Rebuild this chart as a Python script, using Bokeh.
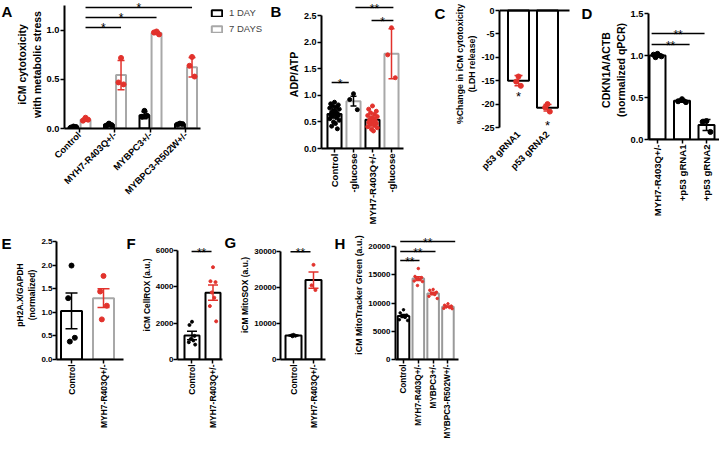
import math
from bokeh.plotting import figure
from bokeh.layouts import row, column
from bokeh.models import (Range1d, FixedTicker, PrintfTickFormatter, Whisker, TeeHead,
                          ColumnDataSource, Label, Legend, LegendItem)
from bokeh.core.properties import value
from bokeh.embed import file_html
from bokeh.resources import INLINE

FONT = "Liberation Sans"
RED = "#e2322c"
GREY = "#a8a8a8"
HGREY = "#9a9a9a"

# ================= DATA =================
# Panel A
a_groups = ["Control", "MYH7-R403Q+/-", "MYBPC3+/-", "MYBPC3-R502W+/-"]
a_legend = ["1 DAY", "7 DAYS"]
a_day1_mean = [0.015, 0.04, 0.135, 0.045]
a_day1_err = [0.005, 0.01, 0.035, 0.006]
a_day1_pts = [[0.02, 0.01, 0.015], [0.05, 0.03, 0.035], [0.18, 0.12, 0.13], [0.05, 0.04, 0.045]]
a_day7_mean = [0.09, 0.545, 0.975, 0.625]
a_day7_err = [0.015, 0.15, 0.015, 0.10]
a_day7_pts = [[0.11, 0.08, 0.09], [0.72, 0.47, 0.45], [0.99, 0.98, 0.96], [0.73, 0.64, 0.53]]
a_yticks = [0.0, 0.5, 1.0]

# Panel B
b_labels = ["Control", "-glucose", "MYH7-R403Q+/-", "-glucose"]
b_mean = [0.65, 0.89, 0.54, 1.78]
b_err = [0.03, 0.09, 0.03, 0.47]
b_pts = [
    [0.87, 0.84, 0.82, 0.80, 0.78, 0.76, 0.74, 0.72, 0.70, 0.68, 0.66,
     0.65, 0.63, 0.62, 0.60, 0.58, 0.56, 0.53, 0.50, 0.47, 0.42, 0.37],
    [1.03, 0.92, 0.73],
    [0.80, 0.74, 0.70, 0.67, 0.64, 0.62, 0.60, 0.58, 0.56, 0.54,
     0.52, 0.50, 0.49, 0.47, 0.45, 0.43, 0.41, 0.39, 0.36, 0.33],
    [2.27, 1.76, 1.33],
]
b_yticks = [0.0, 0.5, 1.0, 1.5, 2.0, 2.5]

# Panel C
c_labels = ["p53 gRNA1", "p53 gRNA2"]
c_mean = [-15.0, -20.8]
c_err = [1.1, 0.7]
c_pts = [[-14.1, -15.2, -16.1], [-20.0, -20.7, -21.6]]
c_yticks = [0, -5, -10, -15, -20, -25]

# Panel D
d_labels = ["MYH7-R403Q+/-", "+p53 gRNA1", "+p53 gRNA2"]
d_mean = [1.0, 0.46, 0.173]
d_err = [0.02, 0.015, 0.065]
d_pts = [[1.02, 1.01, 0.99, 0.98], [0.48, 0.455, 0.445], [0.22, 0.21, 0.09]]
d_yticks = [0.0, 0.5, 1.0, 1.5]

# Panel E
e_labels = ["Control", "MYH7-R403Q+/-"]
e_mean = [1.03, 1.30]
e_err = [0.38, 0.20]
e_pts = [[1.99, 1.30, 0.46, 0.38], [1.77, 1.44, 1.14, 0.85]]
e_yticks = [0.0, 0.5, 1.0, 1.5, 2.0, 2.5]

# Panel F
f_labels = ["Control", "MYH7-R403Q+/-"]
f_mean = [1320, 3680]
f_err = [230, 420]
f_pts = [[2080, 1900, 1300, 1130, 1050, 950, 820], [5080, 4310, 4260, 3690, 3400, 2940, 2100]]
f_yticks = [0, 2000, 4000, 6000]

# Panel G
g_labels = ["Control", "MYH7-R403Q+/-"]
g_mean = [6650, 22070]
g_err = [150, 2250]
g_pts = [[6850, 6700, 6600, 6450], [26300, 20600, 19300]]
g_yticks = [0, 10000, 20000, 30000]

# Panel H
h_labels = ["Control", "MYH7-R403Q+/-", "MYBPC3+/-", "MYBPC3-R502W+/-"]
h_mean = [7710, 14325, 11680, 9350]
h_err = [270, 330, 230, 120]
h_pts = [[8800, 8250, 7850, 7650, 7450, 7050, 6900],
         [16100, 14700, 14500, 14300, 14200, 13900, 13800, 13100],
         [12400, 12250, 11900, 11700, 11500, 11200, 10800],
         [9850, 9600, 9450, 9300, 9200, 9050, 9000]]
h_yticks = [0, 5000, 10000, 15000, 20000]

# ================= HELPERS =================
PATTERN = [0.0, -0.8, 0.8, -0.4, 0.4, -1.0, 1.0, -0.2, 0.2, -0.6, 0.6]


def spread_x(center, n, half):
    return [center + PATTERN[i % len(PATTERN)] * half for i in range(n)]


def make_fig(fl, ft, fw, fh, l, r, t, b, xr, yr):
    # fl, ft: page position of the frame's top-left corner (for letter placement)
    p = figure(frame_width=fw, frame_height=fh, x_range=Range1d(*xr), y_range=Range1d(*yr),
               output_backend="svg", toolbar_location=None, title=None,
               min_border_left=l, min_border_right=r, min_border_top=t, min_border_bottom=b)
    p.xgrid.visible = False
    p.ygrid.visible = False
    p.outline_line_color = None
    p.background_fill_color = "white"
    p.border_fill_color = "white"
    p._g = (fl, ft, fw, fh, xr, yr)
    return p


def put_letter(p, txt, px, py):
    fl, ft, fw, fh, xr, yr = p._g
    x = xr[0] + (px - fl) * (xr[1] - xr[0]) / fw
    y = yr[1] - (py - ft) * (yr[1] - yr[0]) / fh
    p.text(x=[x], y=[y], text=[txt], text_font=value(FONT), text_font_style="bold",
           text_font_size="15px", text_baseline="top", text_align="left", text_color="black")


def letter_fig(w, h, txt, x, y):
    p = figure(frame_width=w, frame_height=h, x_range=Range1d(0, w), y_range=Range1d(0, h),
               output_backend="svg", toolbar_location=None, title=None,
               x_axis_type=None, y_axis_type=None, min_border=0)
    p.outline_line_color = None
    p.background_fill_color = "white"
    p.border_fill_color = "white"
    p.text(x=[x], y=[y], text=[txt], text_font=value(FONT), text_font_style="bold",
           text_font_size="15px", text_baseline="top", text_align="left", text_color="black")
    return p


def setup(p, xticks, xlabels, xbounds, xorient, xsize, yticks, yfmt, ybounds, ylabel, ylsize,
          ysize="9px", ystand=1):
    xa = p.xaxis[0]
    ya = p.yaxis[0]
    for ax in (xa, ya):
        ax.axis_line_width = 2
        ax.axis_line_color = "black"
        ax.major_tick_line_width = 1.5
        ax.major_tick_out = 4
        ax.major_tick_in = 0
        ax.minor_tick_line_color = None
        ax.major_label_text_font = FONT
        ax.major_label_text_font_style = "bold"
        ax.major_label_text_color = "black"
        ax.major_label_standoff = 1
        ax.axis_label_text_font = FONT
        ax.axis_label_text_font_style = "bold"
        ax.axis_label_text_color = "black"
    xa.ticker = FixedTicker(ticks=xticks)
    xa.major_label_overrides = {t: s for t, s in zip(xticks, xlabels)}
    xa.bounds = xbounds
    xa.major_label_orientation = xorient
    xa.major_label_text_font_size = xsize
    ya.ticker = FixedTicker(ticks=yticks)
    ya.formatter = PrintfTickFormatter(format=yfmt)
    ya.bounds = ybounds
    ya.major_label_text_font_size = ysize
    ya.major_label_standoff = ystand
    ya.axis_label = ylabel
    ya.axis_label_text_font_size = ylsize
    ya.axis_label_standoff = 1


def errbars(p, xs, means, errs, colors, head):
    for x, m, e, c in zip(xs, means, errs, colors):
        src = ColumnDataSource(dict(x=[x], upper=[m + e], lower=[m - e]))
        w = Whisker(source=src, base="x", upper="upper", lower="lower",
                    line_color=c, line_width=1.5,
                    upper_head=TeeHead(size=head, line_color=c, line_width=1.5),
                    lower_head=TeeHead(size=head, line_color=c, line_width=1.5))
        w.level = "overlay"
        p.add_layout(w)


def sig(p, x0, x1, y, txt, size="12px"):
    p.segment(x0=[x0], y0=[y], x1=[x1], y1=[y], line_color="black", line_width=1.5)
    p.add_layout(Label(x=(x0 + x1) / 2, y=y, text=txt, text_align="center",
                       text_baseline="alphabetic", y_offset=-1, text_font=FONT,
                       text_font_size=size, text_color="black"))


def simple_bars(p, xs, means, colors, width, bottom=0):
    if bottom == 0:
        p.vbar(x=xs, top=means, bottom=0, width=width, fill_color="white",
               line_color=colors, line_width=2)
    else:
        p.vbar(x=xs, top=0, bottom=means, width=width, fill_color="white",
               line_color=colors, line_width=2)


def points(p, xs, pts, colors, half, size):
    for x, vals, c in zip(xs, pts, colors):
        p.scatter(spread_x(x, len(vals), half), vals, size=size, fill_color=c, line_color=c)


# shared bottom borders per row (plots in a row are aligned on these)
TOP_B = 82
BOT_B = 81

# ================= TOP ROW =================
lA = letter_fig(13, 230, "A", 1, 227.5)

# ---- Panel A ----
pA = make_fig(67, 8, 218, 128, 46, 2, 0, TOP_B, (-0.4225, 5.7183), (0, 1.306))
ia = list(range(len(a_groups)))
off = 0.17
x1 = [i - off for i in ia]
x7 = [i + off for i in ia]
rA1 = pA.vbar(x=x1, top=a_day1_mean, width=0.28, fill_color="white", line_color="black", line_width=2)
rA7 = pA.vbar(x=x7, top=a_day7_mean, width=0.28, fill_color="white", line_color=GREY, line_width=2)
points(pA, x1, a_day1_pts, ["black"] * 4, 0.09, 5)
points(pA, x7, a_day7_pts, [RED] * 4, 0.09, 5)
errbars(pA, x1, a_day1_mean, a_day1_err, ["black"] * 4, 6)
errbars(pA, x7, a_day7_mean, a_day7_err, [RED] * 4, 7)
setup(pA, ia, a_groups, (-0.4225, 3.41), math.pi / 4, "9.3px", a_yticks, "%.1f", (0, 1.25),
      "iCM cytotoxicity\nwith metabolic stress", "10.5px", "9.3px")
for j, yv in zip([1, 2, 3], [1.031, 1.133, 1.235]):
    sig(pA, x7[0], x7[j], yv, "*")
legA = Legend(items=[LegendItem(label=a_legend[0], renderers=[rA1]),
                     LegendItem(label=a_legend[1], renderers=[rA7])],
              location=(146, 94), orientation="vertical", glyph_width=13, glyph_height=8,
              label_height=10, label_standoff=6, spacing=5, padding=0, margin=0,
              border_line_color=None, background_fill_alpha=0,
              label_text_font=FONT, label_text_font_size="9.5px")
pA.add_layout(legA)
put_letter(pA, "B", 273, 10.5)

# ---- Panel B ----
pB = make_fig(320, 8, 127, 148, 33, 2, 0, TOP_B, (0.316, 7.0), (0, 2.782))
ib = [1, 2, 3, 4]
simple_bars(pB, ib, b_mean, ["black", GREY, "black", GREY], 0.74)
points(pB, ib, b_pts, ["black", "black", RED, RED], 0.25, 4)
errbars(pB, ib, b_mean, b_err, ["black", "black", RED, RED], 6)
setup(pB, ib, b_labels, (0.316, 4.63), math.pi / 2, "9.5px", b_yticks, "%.1f", (0, 2.5),
      "ADP/ATP", "10.5px")
sig(pB, 0.85, 1.75, 1.24, "*")
sig(pB, 2.1, 4.1, 2.65, "**")
sig(pB, 2.95, 4.1, 2.406, "*")
put_letter(pB, "C", 433, 12.5)

# ---- Panel C ----
pC = make_fig(498, 8, 96, 127, 49, 2, 0, TOP_B, (0.345, 3.655), (-25, 2.137))
ic = [1, 2]
simple_bars(pC, ic, c_mean, ["black", "black"], 0.724, bottom=1)
points(pC, ic, c_pts, [RED, RED], 0.1, 5)
errbars(pC, ic, c_mean, c_err, [RED, RED], 8)
setup(pC, ic, c_labels, (0.345, 2.759), math.pi / 4, "9.4px", c_yticks, "%d", (-25, 0),
      "%Change in iCM cytotoxicity\n(LDH release)", "8.8px")
pC.xaxis[0].axis_line_color = None
pC.xaxis[0].major_tick_line_color = None
pC.segment(x0=[0.345], y0=[0], x1=[2.759], y1=[0], line_color="black", line_width=2)
for x, yv in zip(ic, [-18.35, -24.57]):
    pC.add_layout(Label(x=x, y=yv, text="*", text_align="center", text_baseline="middle",
                        text_font=FONT, text_font_size="13px", text_color="black"))
put_letter(pC, "D", 580, 12.5)

# ---- Panel D ----
pD = make_fig(644, 8, 71, 139, 48, 0, 0, TOP_B, (0.633, 3.53), (0, 1.655))
idd = [1, 2, 3]
simple_bars(pD, idd, d_mean, ["black"] * 3, 0.653)
points(pD, idd, d_pts, ["black"] * 3, 0.2, 5)
errbars(pD, idd, d_mean, d_err, ["black"] * 3, 8)
setup(pD, idd, d_labels, (0.633, 3.53), math.pi / 2, "9.6px", d_yticks, "%.1f", (0, 1.5),
      "CDKN1A/ACTB\n(normalized qPCR)", "10.5px", "9.3px")
sig(pD, 0.76, 2.31, 1.131, "**")
sig(pD, 0.76, 2.92, 1.262, "**")

# ================= BOTTOM ROW =================
lE = letter_fig(12, 210, "E", 1, 205.5)

# ---- Panel E ----
pE = make_fig(58, 238, 81, 129, 38, 1, 0, BOT_B, (0.531, 3.0623), (0, 2.733))
ie = [1, 2]
simple_bars(pE, ie, e_mean, ["black", GREY], 0.656)
points(pE, ie, e_pts, ["black", RED], 0.13, 5)
errbars(pE, ie, e_mean, e_err, ["black", RED], 12)
setup(pE, ie, e_labels, (0.531, 2.625), math.pi / 2, "8.5px", e_yticks, "%.1f", (0, 2.5),
      "pH2A.X/GAPDH\n(normalized)", "8.5px", "8px", 0)
put_letter(pE, "F", 128, 242.5)

# ---- Panel F ----
pF = make_fig(175, 238, 59, 129, 35, 1, 0, BOT_B, (0.31, 3.119), (0, 7101))
iff = [1, 2]
simple_bars(pF, iff, f_mean, ["black", "black"], 0.714)
points(pF, iff, f_pts, ["black", RED], 0.15, 3)
errbars(pF, iff, f_mean, f_err, ["black", RED], 10)
setup(pF, iff, f_labels, (0.31, 2.452), math.pi / 2, "8.5px", f_yticks, "%d", (0, 6000),
      "iCM CellROX (a.u.)", "8.3px", "8px", 0)
sig(pF, 0.98, 1.93, 5944, "**")
put_letter(pF, "G", 222, 241.5)

# ---- Panel G ----
pG = make_fig(273, 238, 66, 129, 38, 1, 0, BOT_B, (0.35, 3.65), (0, 35833))
ig = [1, 2]
simple_bars(pG, ig, g_mean, ["black", "black"], 0.8)
points(pG, ig, g_pts, ["black", RED], 0.12, 3)
errbars(pG, ig, g_mean, g_err, ["black", RED], 10)
setup(pG, ig, g_labels, (0.35, 2.6), math.pi / 2, "8.5px", g_yticks, "%d", (0, 30000),
      "iCM MitoSOX (a.u.)", "8.5px", "8px", 0)
sig(pG, 0.85, 1.85, 29900, "**")
put_letter(pG, "H", 327, 242.5)

# ---- Panel H ----
pH = make_fig(388, 238, 64, 129, 48, 28, 0, BOT_B, (0.46, 4.78), (0, 22832))
ih = [1, 2, 3, 4]
simple_bars(pH, ih, h_mean, ["black", HGREY, HGREY, HGREY], 0.78)
points(pH, ih, h_pts, ["black", RED, RED, RED], 0.28, 2.5)
errbars(pH, ih, h_mean, h_err, ["black", RED, RED, RED], 6)
setup(pH, ih, h_labels, (0.46, 4.72), math.pi / 2, "8.2px", h_yticks, "%d", (0, 20000),
      "iCM MitoTracker Green (a.u.)", "8.8px", "8px")
sig(pH, 0.78, 2.08, 17520, "**")
sig(pH, 0.78, 3.16, 19115, "**")
sig(pH, 0.78, 4.49, 20885, "**")

layout = column(row(lA, pA, pB, pC, pD), row(lE, pE, pF, pG, pH))
open("out.html", "w").write(file_html(layout, INLINE))
